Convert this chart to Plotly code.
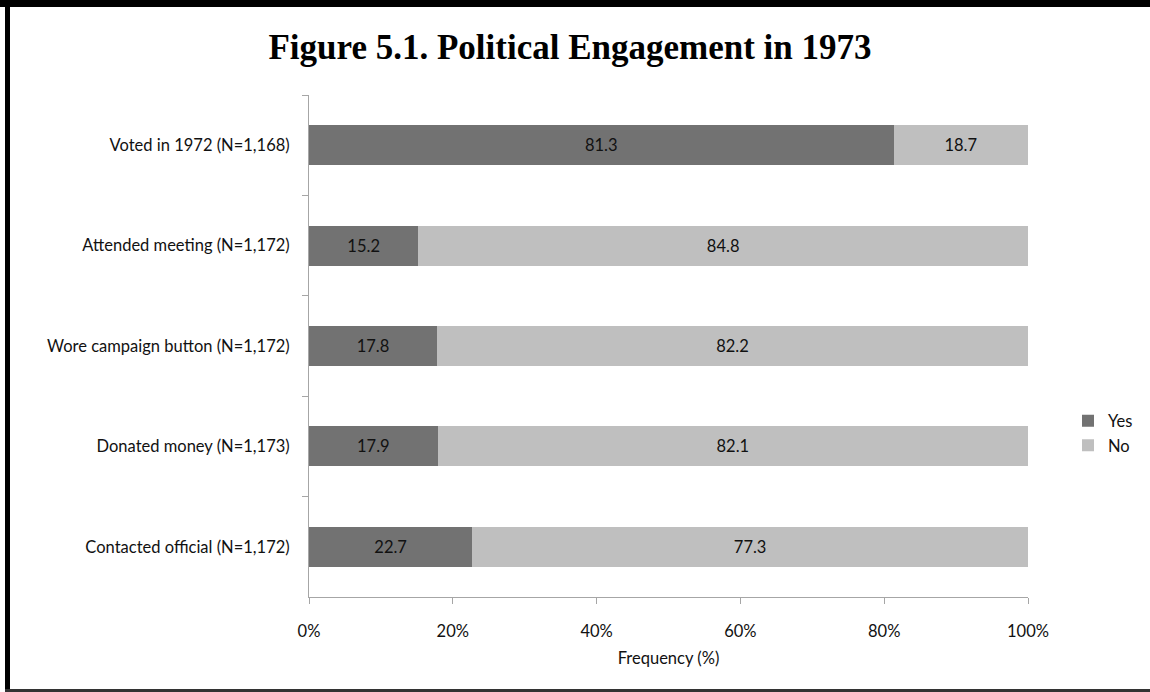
import plotly.graph_objects as go

categories = [
    "Voted in 1972 (N=1,168)",
    "Attended meeting (N=1,172)",
    "Wore campaign button (N=1,172)",
    "Donated money (N=1,173)",
    "Contacted official (N=1,172)",
]
yes_values = [81.3, 15.2, 17.8, 17.9, 22.7]
no_values = [18.7, 84.8, 82.2, 82.1, 77.3]
x_tick_vals = [0, 20, 40, 60, 80, 100]
x_tick_text = ["0%", "20%", "40%", "60%", "80%", "100%"]

W, H = 1150, 692
ML, MR, MT, MB = 309, 122, 95, 95
PW, PH = W - ML - MR, H - MT - MB

def px(x):
    return (x - ML) / PW

def py(y):
    return (H - MB - y) / PH

font = "Lato"
fs = 16.5

fig = go.Figure()
fig.add_trace(go.Bar(
    y=categories, x=yes_values, name="Yes", orientation="h",
    marker=dict(color="#727272", line=dict(width=0)),
    text=[f"{v:.1f}" for v in yes_values], textposition="inside",
    insidetextanchor="middle", constraintext="none",
    textfont=dict(family=font, size=fs, color="#111111"),
))
fig.add_trace(go.Bar(
    y=categories, x=no_values, name="No", orientation="h",
    marker=dict(color="#bfbfbf", line=dict(width=0)),
    text=[f"{v:.1f}" for v in no_values], textposition="inside",
    insidetextanchor="middle", constraintext="none",
    textfont=dict(family=font, size=fs, color="#111111"),
))

shapes = [
    dict(type="rect", xref="paper", yref="paper", x0=px(0), x1=px(W), y0=py(0), y1=py(7),
         fillcolor="#000000", line=dict(width=0), layer="above"),
    dict(type="rect", xref="paper", yref="paper", x0=px(5), x1=px(10), y0=py(0), y1=py(H),
         fillcolor="#000000", line=dict(width=0), layer="above"),
    dict(type="rect", xref="paper", yref="paper", x0=px(5), x1=px(W), y0=py(689), y1=py(692),
         fillcolor="#333333", line=dict(width=0), layer="above"),
]

fig.update_layout(
    width=W, height=H,
    margin=dict(l=ML, r=MR, t=MT, b=MB, autoexpand=False),
    paper_bgcolor="white", plot_bgcolor="white",
    barmode="stack", bargap=0.6,
    showlegend=True,
    title=dict(text="<b>Figure 5.1. Political Engagement in 1973</b>",
               font=dict(family="Liberation Serif", size=35, color="#000000"),
               x=px(570), xref="paper", xanchor="center",
               y=1 - 47 / H, yref="container", yanchor="middle"),
    legend=dict(x=px(1068), y=py(433), xanchor="left", yanchor="middle",
                traceorder="normal", font=dict(family=font, size=fs, color="#111111"),
                itemwidth=30, tracegroupgap=0, bgcolor="rgba(0,0,0,0)"),
    font=dict(family=font, size=fs, color="#111111"),
    shapes=shapes,
)
fig.update_xaxes(
    range=[0, 100], tickvals=x_tick_vals, ticktext=x_tick_text,
    showgrid=False, zeroline=False, showline=True, linecolor="#a6a6a6", linewidth=1,
    ticks="outside", ticklen=6, tickcolor="#a6a6a6",
    tickfont=dict(family=font, size=fs, color="#111111"),
    ticklabelstandoff=13,
    title=dict(text="Frequency (%)", font=dict(family=font, size=fs, color="#111111"), standoff=12),
)
fig.update_yaxes(
    autorange="reversed", showgrid=False, zeroline=False,
    showline=True, linecolor="#a6a6a6", linewidth=1,
    ticks="outside", ticklen=6, tickcolor="#a6a6a6", tickson="boundaries",
    tickfont=dict(family=font, size=fs, color="#111111"),
    ticklabelstandoff=15,
)

fig.write_html("out.html", config={"displayModeBar": False},
               post_script="document.body.style.margin='0';document.body.style.overflow='hidden';")
